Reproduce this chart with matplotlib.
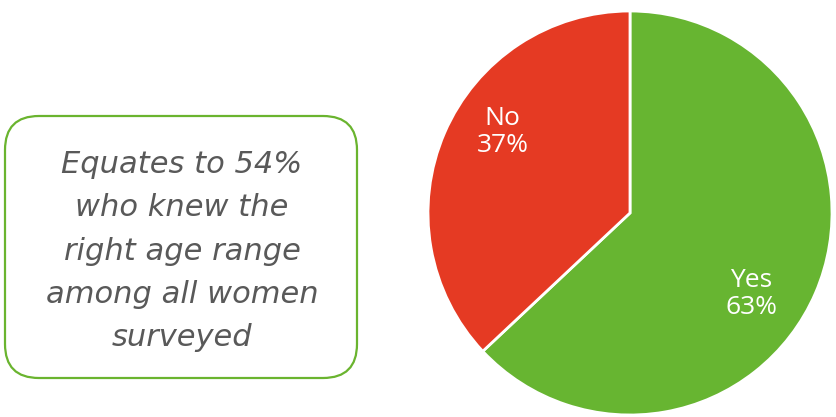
import matplotlib.pyplot as plt
from matplotlib.patches import FancyBboxPatch

# chart data
categories = ["Yes", "No"]
shares = [63, 37]
colors = ["#67B531", "#E53A23"]
note_text = "Equates to 54%\nwho knew the\nright age range\namong all women\nsurveyed"

W, H = 837, 417
fig = plt.figure(figsize=(W / 100, H / 100), dpi=100)

# pie axes, placed in pixel terms
ax = fig.add_axes([428 / W, 2 / H, 404 / W, 404 / H])
wedges, texts = ax.pie(
    shares, colors=colors, startangle=90, counterclock=False,
    wedgeprops=dict(edgecolor="white", linewidth=2),
)
ax.set_xlim(-1.0, 1.0)
ax.set_ylim(-1.0, 1.0)
ax.set_aspect("equal")

# labels inside slices
label_pos = {"Yes": (0.60, -0.40), "No": (-0.63, 0.40)}
for cat, val in zip(categories, shares):
    x, y = label_pos[cat]
    ax.text(x, y, f"{cat}\n{val}%", ha="center", va="center",
            color="white", fontsize=19, family="Open Sans", linespacing=1.1)

# note box on the left
bax = fig.add_axes([0, 0, 1, 1])
bax.set_xlim(0, W)
bax.set_ylim(H, 0)
bax.axis("off")
box = FancyBboxPatch((5 + 34, 116 + 34), 352 - 68, 262 - 68,
                     boxstyle="round,pad=34", facecolor="white",
                     edgecolor="#6AB42F", linewidth=1.6)
bax.add_patch(box)
bax.text(182, 251, note_text, ha="center", va="center", color="#595959",
         fontsize=22, style="italic", family="DejaVu Sans", linespacing=1.62)

fig.savefig("out.png", dpi=100)
